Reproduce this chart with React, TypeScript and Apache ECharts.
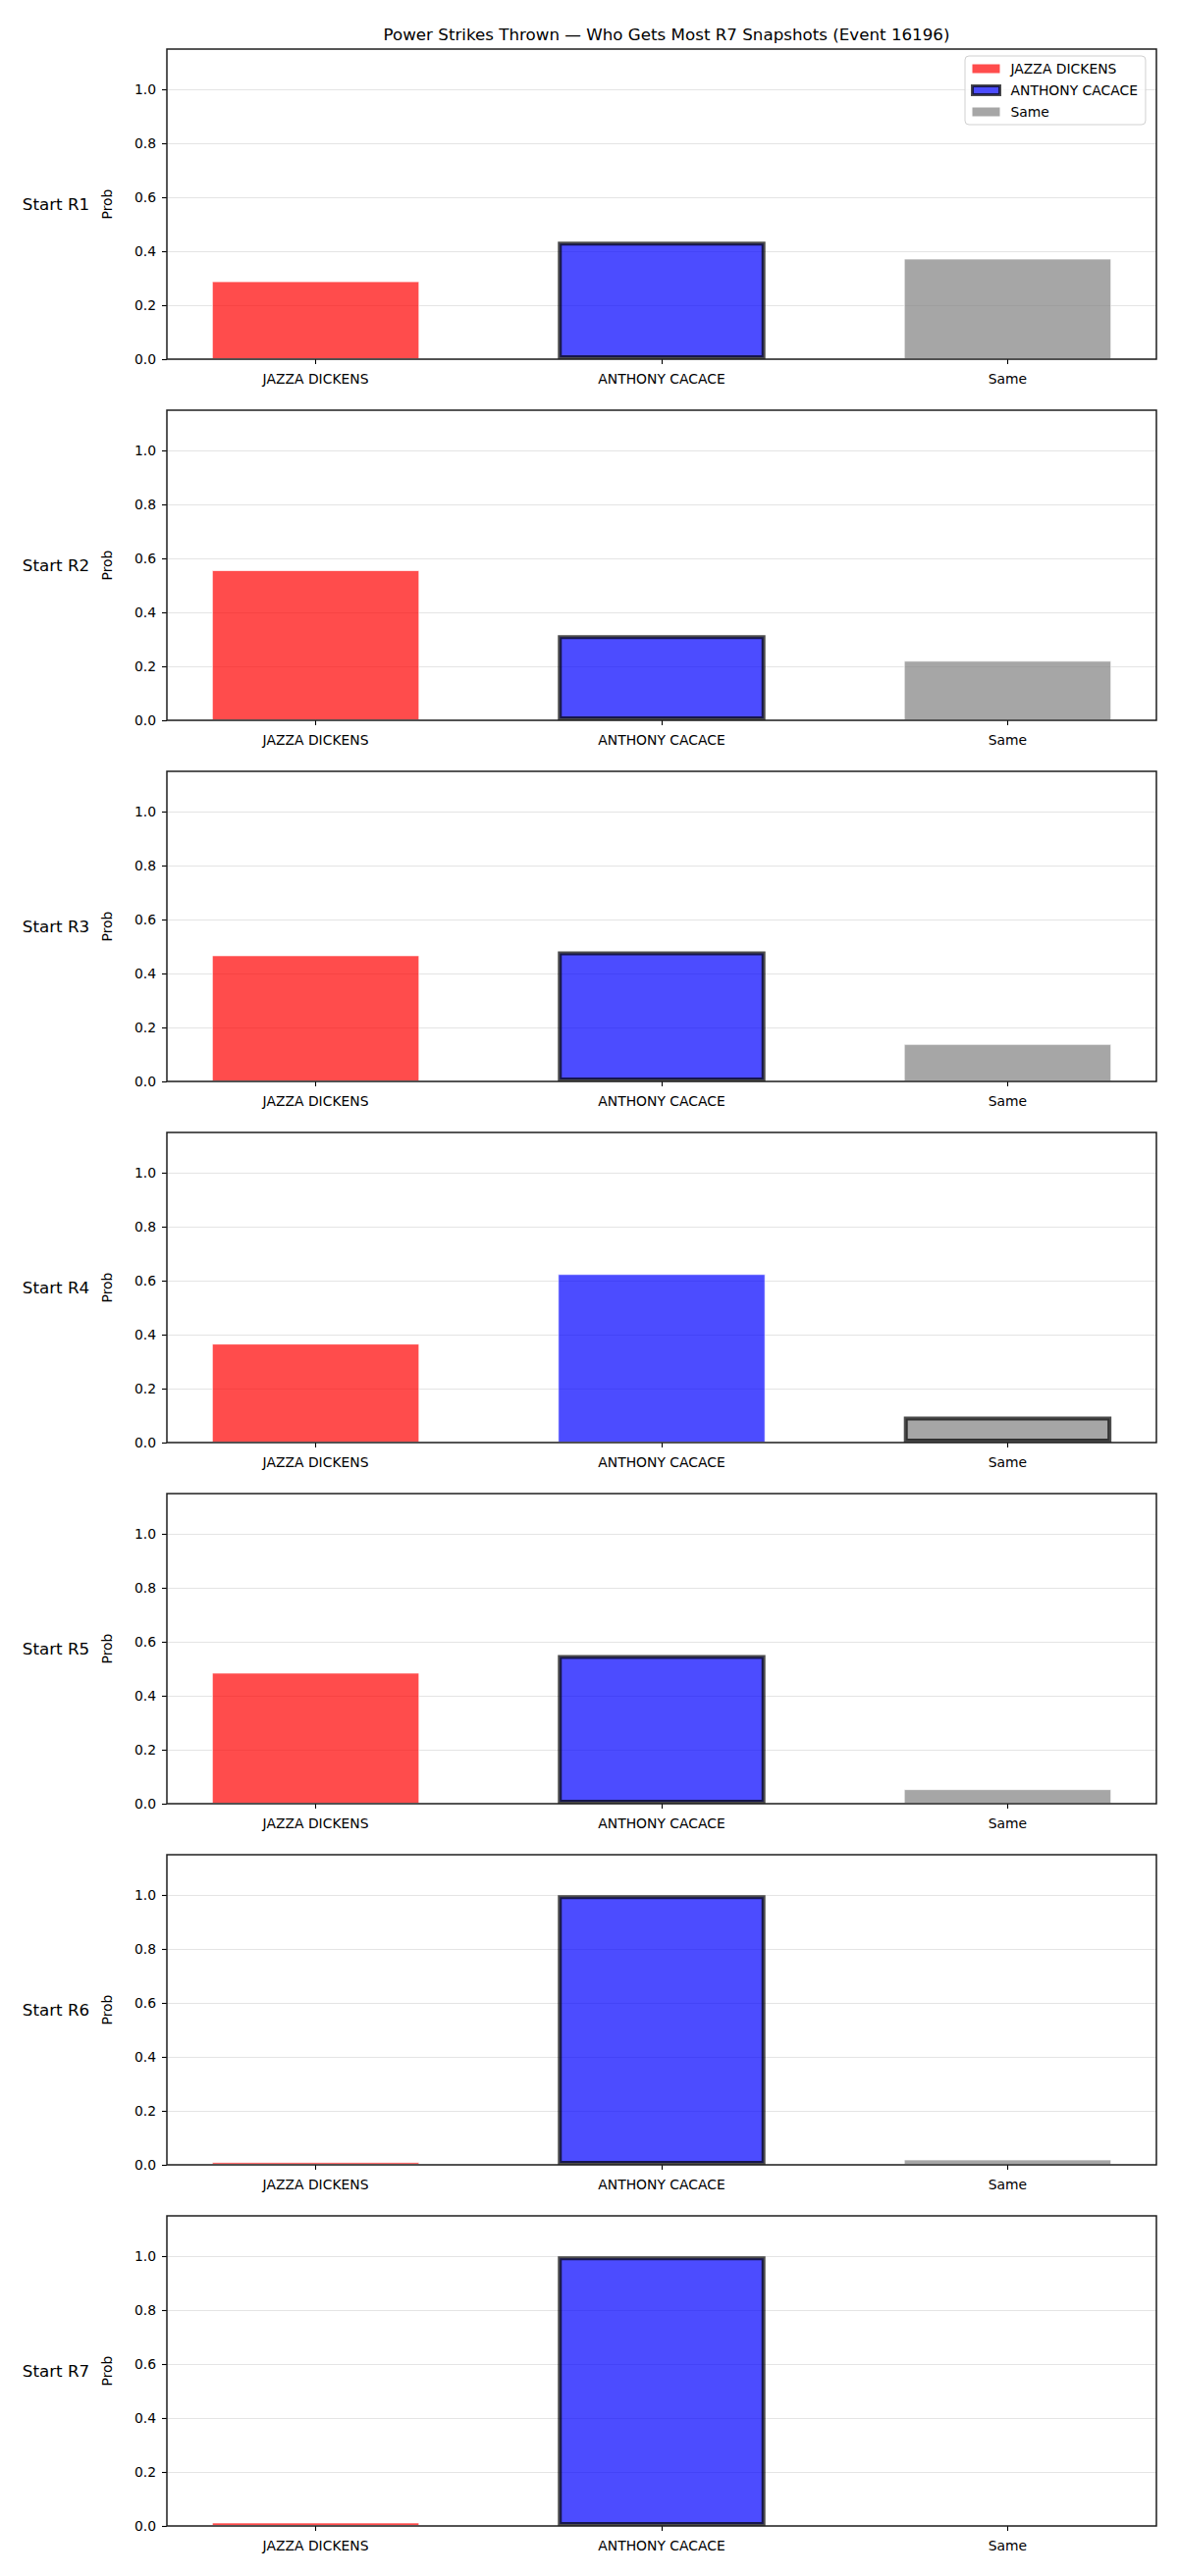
import React, { useEffect, useRef } from "react";
import * as echarts from "echarts";

// Outcome categories and per-round probabilities
const CATEGORIES = ["JAZZA DICKENS", "ANTHONY CACACE", "Same"];
const ROUNDS = ["Start R1", "Start R2", "Start R3", "Start R4", "Start R5", "Start R6", "Start R7"];
const JAZZA = [0.289, 0.557, 0.468, 0.367, 0.486, 0.01, 0.013];
const ANTHONY = [0.436, 0.316, 0.482, 0.625, 0.551, 1.0, 1.0];
const SAME = [0.373, 0.221, 0.139, 0.096, 0.054, 0.02, 0.004];
// index of the outlined bar in each round
const OUTLINED = [1, 1, 1, 2, 1, 1, 1];
const Y_TICKS = [0, 0.2, 0.4, 0.6, 0.8, 1.0];
const X_TICKS = [0, 1, 2];

const TITLE = "Power Strikes Thrown \u2014 Who Gets Most R7 Snapshots (Event 16196)";

const VALUES = [JAZZA, ANTHONY, SAME];
const FILLS = ["rgba(255,0,0,0.7)", "rgba(0,0,255,0.7)", "rgba(128,128,128,0.7)"];

// layout
const W = 1200;
const H = 2625;
const PLOT_LEFT = 170;
const PLOT_WIDTH = 1008;
const PLOT_HEIGHT = 316;
const FIRST_TOP = 50;
const PANEL_STEP = 368;
const X_MIN = -0.43;
const X_MAX = 2.43;
const Y_MAX = 1.15;
const BAR_UNITS = 0.6;
const BAR_PX = (BAR_UNITS * PLOT_WIDTH) / (X_MAX - X_MIN);

const FONT = "DejaVu Sans";
const TICK_FS = 13.9;
const BIG_FS = 16.7;

const outlineStyle = { borderColor: "rgba(0,0,0,0.7)", borderWidth: 4 };
const plainStyle = { borderColor: "rgba(255,255,255,0.7)", borderWidth: 1 };

export default function App() {
  const ref = useRef<HTMLDivElement>(null);

  useEffect(() => {
    if (!ref.current) return;
    const chart = echarts.init(ref.current, undefined, { renderer: "svg" });

    const grids = ROUNDS.map((_, i) => ({
      left: PLOT_LEFT,
      top: FIRST_TOP + PANEL_STEP * i,
      width: PLOT_WIDTH,
      height: PLOT_HEIGHT,
      show: true,
      borderColor: "#1f1f1f",
      borderWidth: 1.5,
      backgroundColor: "transparent",
      z: 5,
    }));

    const xAxes = ROUNDS.map((_, i) => ({
      type: "value",
      gridIndex: i,
      position: "bottom",
      min: X_MIN,
      max: X_MAX,
      axisLine: { show: false, onZero: false },
      splitLine: { show: false },
      axisTick: {
        show: true,
        customValues: X_TICKS,
        length: 5,
        lineStyle: { color: "#000", width: 1.1 },
      },
      axisLabel: {
        customValues: X_TICKS,
        formatter: (v: number) => CATEGORIES[Math.round(v)] ?? "",
        margin: 13,
        fontSize: TICK_FS,
        fontFamily: FONT,
        color: "#000",
      },
    }));

    const yAxes = ROUNDS.map((_, i) => ({
      type: "value",
      gridIndex: i,
      position: "left",
      min: 0,
      max: Y_MAX,
      interval: 0.2,
      name: "Prob",
      nameLocation: "middle",
      nameGap: 54,
      nameRotate: 90,
      nameTextStyle: { fontSize: TICK_FS, fontFamily: FONT, color: "#000" },
      axisLine: { show: false, onZero: false },
      axisTick: {
        show: true,
        customValues: Y_TICKS,
        length: 5,
        lineStyle: { color: "#000", width: 1.1 },
      },
      axisLabel: {
        customValues: Y_TICKS,
        formatter: (v: number) => v.toFixed(1),
        margin: 11,
        fontSize: TICK_FS,
        fontFamily: FONT,
        color: "#000",
      },
      splitLine: { show: true, lineStyle: { color: "#e4e4e4", width: 1 } },
    }));

    const series: any[] = [];
    ROUNDS.forEach((_, i) => {
      CATEGORIES.forEach((name, c) => {
        const outlined = OUTLINED[i] === c;
        series.push({
          type: "bar",
          name,
          xAxisIndex: i,
          yAxisIndex: i,
          data: [[c, VALUES[c][i]]],
          barWidth: BAR_PX,
          barGap: "-100%",
          silent: true,
          z: outlined ? 3 : 2,
          itemStyle: { color: FILLS[c], ...(outlined ? outlineStyle : plainStyle) },
        });
      });
    });

    const rowLabels = ROUNDS.map((label, i) => ({
      type: "text",
      x: 57,
      y: FIRST_TOP + PANEL_STEP * i + PLOT_HEIGHT / 2,
      style: {
        text: label,
        fontSize: BIG_FS,
        fontFamily: FONT,
        fill: "#000",
        textAlign: "center",
        textVerticalAlign: "middle",
      },
    }));

    chart.setOption({
      animation: false,
      backgroundColor: "#fff",
      title: {
        text: TITLE,
        left: PLOT_LEFT + PLOT_WIDTH / 2,
        textAlign: "center",
        top: 21,
        textStyle: { fontSize: BIG_FS, fontWeight: "normal", fontFamily: FONT, color: "#000" },
      },
      legend: {
        orient: "vertical",
        left: 983,
        top: 57,
        padding: [6, 8, 6, 6],
        itemGap: 8,
        itemWidth: 28,
        itemHeight: 9,
        icon: "rect",
        selectedMode: false,
        backgroundColor: "rgba(255,255,255,0.8)",
        borderColor: "#d0d0d0",
        borderWidth: 1,
        borderRadius: 4,
        textStyle: { fontSize: TICK_FS, fontFamily: FONT, color: "#000", padding: [0, 0, 0, 6] },
        data: CATEGORIES.map((name, c) => ({
          name,
          itemStyle: { color: FILLS[c], ...(OUTLINED[0] === c ? { borderColor: "rgba(0,0,0,0.7)", borderWidth: 3 } : { borderWidth: 0 }) },
        })),
      },
      grid: grids,
      xAxis: xAxes,
      yAxis: yAxes,
      series,
      graphic: rowLabels,
    });

    return () => chart.dispose();
  }, []);

  return (
    <div
      ref={ref}
      style={{ position: "absolute", left: 0, top: 0, width: W, height: H, background: "#fff" }}
    />
  );
}
